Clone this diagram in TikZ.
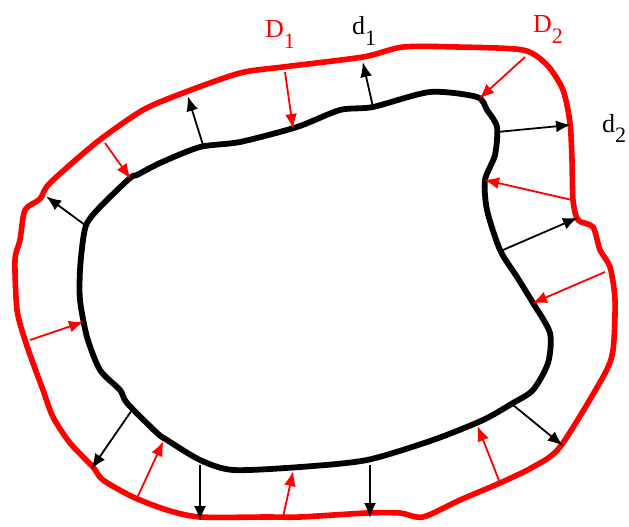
\documentclass[tikz,border=0pt]{standalone}
\usepackage{fontspec}
\setmainfont{Liberation Serif}
\usetikzlibrary{arrows.meta}
\newcommand{\lblsub}[2]{#1\raisebox{-0.40em}{\fontsize{22}{22}\selectfont #2}}
\tikzset{
  outerline/.style={draw=red, line width=5.6pt, line join=round},
  innerline/.style={draw=black, line width=5.8pt, line join=round},
  redarrow/.style={draw=red, line width=1.8pt, -{Latex[length=15pt,width=12pt]}, shorten >=-1pt},
  blackarrow/.style={draw=black, line width=1.8pt, -{Latex[length=15pt,width=12pt]}, shorten >=-1pt},
  lbl/.style={anchor=base west, inner sep=0pt, font=\fontsize{26}{26}\selectfont}
}
\begin{document}
\begin{tikzpicture}[x=1pt,y=-1pt]
\useasboundingbox (0,0) rectangle (629,527);
% outer red boundary
\draw[outerline] plot[smooth cycle, tension=0.45] coordinates {
(25,210) (40,199) (50,183) (97,142) (143,110) (183,93) (240,73) (283,67) (363,57) (403,47) (457,47) (523,50) (547,65) (563,90) (570,123) (572,160) (573,200) (578,220) (593,227) (600,250) (610,267) (615,300) (613,350) (603,377) (560,447) (533,467) (500,483) (460,500) (423,517) (400,513) (367,513) (300,517) (267,517) (200,517) (167,510) (133,497) (103,480) (93,467) (70,443) (53,417) (43,390) (33,363) (25,340) (17,310) (15,260) (20,240)};
% inner black boundary
\draw[innerline] plot[smooth cycle, tension=0.45] coordinates {
(83,240) (87,223) (100,207) (130,178) (137,175) (160,163) (200,147) (240,142) (297,127) (340,110) (373,107) (430,92) (477,97) (487,110) (497,127) (495,155) (485,180) (487,210) (500,250) (517,277) (533,303) (550,333) (548,363) (533,390) (513,403) (483,420) (433,440) (367,460) (300,467) (233,470) (200,460) (167,440) (157,433) (127,403) (120,390) (100,370) (87,337) (80,300) (80,270)};
% red arrows (outer to inner)
\coordinate (r1a) at (105,143); \coordinate (r1b) at (130,178);
\coordinate (r2a) at (285,72);  \coordinate (r2b) at (293,128);
\coordinate (r3a) at (525,57);  \coordinate (r3b) at (480,98);
\coordinate (r4a) at (572,200); \coordinate (r4b) at (485,180);
\coordinate (r5a) at (605,272); \coordinate (r5b) at (533,303);
\coordinate (r6a) at (30,340);  \coordinate (r6b) at (83,322);
\coordinate (r7a) at (137,498); \coordinate (r7b) at (163,442);
\coordinate (r8a) at (283,517); \coordinate (r8b) at (293,472);
\coordinate (r9a) at (500,483); \coordinate (r9b) at (478,427);
\foreach \i in {1,...,9} \draw[redarrow] (r\i a) -- (r\i b);
% black arrows (inner to outer)
\coordinate (b1a) at (203,145); \coordinate (b1b) at (188,97);
\coordinate (b2a) at (373,107); \coordinate (b2b) at (363,63);
\coordinate (b3a) at (497,132); \coordinate (b3b) at (570,125);
\coordinate (b4a) at (85,225);  \coordinate (b4b) at (47,197);
\coordinate (b5a) at (503,250); \coordinate (b5b) at (577,218);
\coordinate (b6a) at (132,410); \coordinate (b6b) at (92,468);
\coordinate (b7a) at (200,465); \coordinate (b7b) at (200,520);
\coordinate (b8a) at (370,465); \coordinate (b8b) at (370,517);
\coordinate (b9a) at (513,405); \coordinate (b9b) at (562,445);
\foreach \i in {1,...,9} \draw[blackarrow] (b\i a) -- (b\i b);
% labels
\node[lbl, text=red] (D1) at (265,38) {\lblsub{D}{1}};
\node[lbl] (d1) at (352,35) {\lblsub{d}{1}};
\node[lbl, text=red] (D2) at (533,33) {\lblsub{D}{2}};
\node[lbl] (d2) at (602,132) {\lblsub{d}{2}};
\end{tikzpicture}
\end{document}
